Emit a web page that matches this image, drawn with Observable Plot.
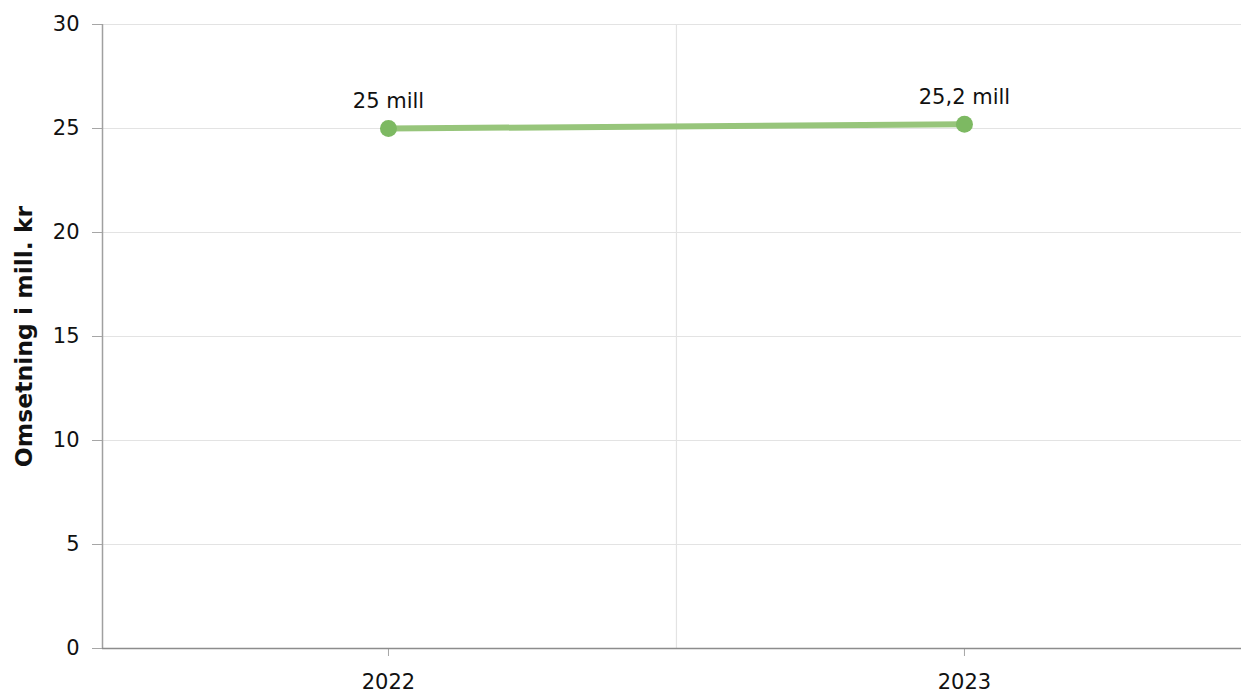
<!DOCTYPE html>
<html>
<head>
<meta charset="utf-8">
<script src="https://cdn.jsdelivr.net/npm/d3@7"></script>
<script src="https://cdn.jsdelivr.net/npm/@observablehq/plot@0.6"></script>
<style>
  html, body { margin: 0; padding: 0; background: #fff; }
  #chart svg { display: block; }
</style>
</head>
<body>
<div id="chart"></div>
<script>
const years = [2022, 2023];
const revenue = [25.0, 25.2];
const yTicks = [0, 5, 10, 15, 20, 25, 30];
const bandEdges = [2022.5];
const yLabel = "Omsetning i mill. kr";

const data = years.map((y, i) => ({year: y, value: revenue[i]}));
const fmt = v => String(v).replace(".", ",") + " mill";

const chart = Plot.plot({
  width: 1241,
  height: 693,
  marginLeft: 102,
  marginRight: 0,
  marginTop: 24,
  marginBottom: 45,
  style: {fontFamily: "'DejaVu Sans', Verdana, sans-serif", fontSize: "21px", color: "#111", background: "#fff"},
  x: {domain: [2021.5035, 2023.481]},
  y: {domain: [0, 30]},
  marks: [
    Plot.ruleY(yTicks.filter(d => d > 0), {stroke: "#e3e3e3", strokeWidth: 1.2}),
    Plot.ruleX(bandEdges, {stroke: "#e3e3e3", strokeWidth: 1.2}),
    Plot.axisY({ticks: yTicks, tickSize: 10, tickPadding: 13, stroke: "#a6a6a6", strokeOpacity: 1, label: null, fontSize: 21}),
    Plot.axisX({ticks: years, tickSize: 8, tickPadding: 18, tickFormat: d => String(d), stroke: "#a6a6a6", strokeOpacity: 1, label: null, fontSize: 21}),
    Plot.ruleX([0], {x: () => 2021.5035, stroke: "#a0a0a0", strokeWidth: 1.5}),
    Plot.ruleY([0], {stroke: "#8c8c8c", strokeWidth: 1.5}),
    Plot.line(data, {x: "year", y: "value", stroke: "#97c57b", strokeWidth: 6}),
    Plot.dot(data, {x: "year", y: "value", r: 8.5, fill: "#7db962", stroke: "none"}),
    Plot.text(data, {x: "year", y: "value", text: d => fmt(d.value), dy: -27, fontSize: 21, fill: "#111"}),
    Plot.text([yLabel], {frameAnchor: "left", textAnchor: "middle", rotate: -90, dx: -78, fontWeight: "bold", fontSize: 23.5, fill: "#111"})
  ]
});
document.getElementById("chart").appendChild(chart);
</script>
</body>
</html>
